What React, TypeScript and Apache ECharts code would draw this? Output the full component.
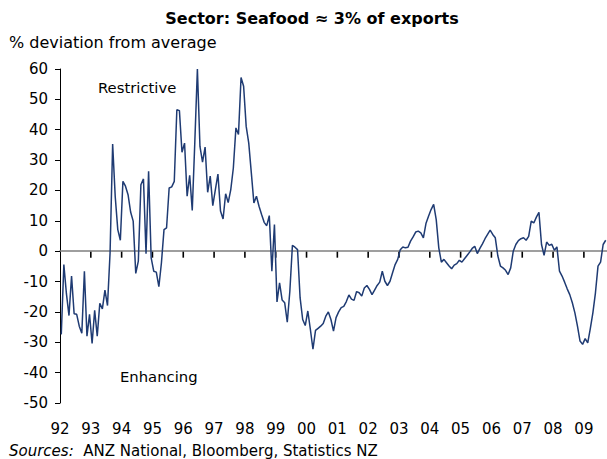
import React, { useEffect, useRef } from "react";
import * as echarts from "echarts";

// Monthly % deviation from average, Jan 1992 .. Sep 2009
const values92to97 = [
  -27.4, -4.4, -14, -21.2, -8.2, -20.6, -20.8, -24.7, -27, -6.6, -28, -20.8,
  -30.4, -19.5, -28, -17.2, -19, -12.8, -17.9, -0.5, 35.3, 18, 7.1, 3.6,
  23, 21.4, 18.6, 12.9, 9.9, -7.3, -3.3, 21.9, 23.8, -0.8, 26.3, -2.2,
  -6.6, -6.9, -11.7, -3.8, 7.1, 7.7, 20.8, 21.2, 23, 46.6, 46.3, 32.6,
  35.6, 18.1, 25, 13.4, 36, 60, 34.5, 29.3, 34.3, 19.4, 24.7, 15,
  20.3, 25.4, 13.2, 10.6, 18.9, 16, 20.3, 27.4, 40.6, 38.4, 57.2, 54.3,
];
const values98to03 = [
  41.1, 35.6, 25.8, 15.9, 18.1, 14.8, 12.1, 9.5, 8.4, 11.7, -6.6, 8.8,
  -16.7, -10.4, -16.1, -17, -23.4, -13.2, 1.9, 1.3, 0.5, -15.4, -22.5, -24.5,
  -19.7, -25.8, -32.3, -26.1, -25.4, -24.7, -23.8, -21.4, -20, -22.5, -26.3, -21.9,
  -20, -18.6, -18.2, -16.6, -14.4, -15.8, -16.2, -13.3, -13.7, -14.8, -12.1, -11.3,
  -12.6, -14.3, -12.8, -11.3, -10.2, -6.6, -9.9, -11.3, -9.9, -7.1, -4.4, -2.7,
  0.5, 1.4, 1.1, 1.3, 3.3, 4.7, 6.3, 6.6, 6, 4.4, 9.1, 11.5,
];
const values04to09 = [
  13.7, 15.4, 10.4, 1.1, -3.6, -2.7, -3.8, -4.9, -5.8, -4.6, -4.1, -3,
  -3.6, -2.5, -1.4, -0.3, 0.9, 1.6, -0.8, 0.9, 2.4, 4.1, 5.5, 6.9,
  5.5, 4.4, -1.6, -4.9, -5.5, -6.3, -7.7, -5.5, 0, 2.2, 3.5, 4.1,
  4.4, 3.6, 4.9, 9.9, 9.3, 11.2, 12.8, 2.2, -1.4, 3, 1.9, 2.3,
  0.3, 1.4, -6.6, -8.2, -10.2, -12.4, -14.3, -17, -20.3, -24.7, -29.6, -30.7,
  -28.8, -30.2, -25.5, -20.3, -13.7, -4.9, -3.6, 2.2, 3.6,
];
const values = [...values92to97, ...values98to03, ...values04to09];

const firstYear = 1992;
const yearTicks = [
  1992, 1993, 1994, 1995, 1996, 1997, 1998, 1999, 2000,
  2001, 2002, 2003, 2004, 2005, 2006, 2007, 2008, 2009,
];
const yMin = -50;
const yMax = 60;
const yStep = 10;

const FONT = "DejaVu Sans, Verdana, sans-serif";

export default function App() {
  const ref = useRef<HTMLDivElement>(null);

  useEffect(() => {
    if (!ref.current) return;
    const chart = echarts.init(ref.current, null, { renderer: "svg" });
    const data = values.map((v, i) => [firstYear + i / 12 + 1 / 24, v]);
    const tickData = yearTicks.slice(1).map((y) => [y, 0]);
    const xMax = firstYear + values.length / 12;

    const H = 459;
    const top = 69;
    const bottom = 56;
    const plotH = H - top - bottom;
    const zeroY = top + (plotH * yMax) / (yMax - yMin);

    chart.setOption({
      animation: false,
      backgroundColor: "#ffffff",
      grid: [
        { left: 60, right: 0, top, bottom, containLabel: false },
        { left: 60, right: 0, top, bottom: H - zeroY, containLabel: false },
      ],
      xAxis: [
        {
          gridIndex: 0,
          type: "value",
          min: firstYear,
          max: xMax,
          position: "bottom",
          axisLine: { show: false, onZero: false },
          axisTick: { show: false },
          splitLine: { show: false },
          axisLabel: {
            customValues: yearTicks,
            formatter: (v: number) => String(Math.round(v) % 100).padStart(2, "0"),
            fontFamily: FONT,
            fontSize: 15,
            color: "#000",
            margin: 18,
          },
        },
        {
          gridIndex: 1,
          type: "value",
          min: firstYear,
          max: xMax,
          interval: 1,
          position: "bottom",
          axisLine: { show: true, onZero: false, lineStyle: { color: "#7f7f7f", width: 1.6 } },
          axisTick: { show: false },
          axisLabel: { show: false },
          splitLine: { show: false },
        },
      ],
      yAxis: [
        {
          gridIndex: 0,
          type: "value",
          min: yMin,
          max: yMax,
          interval: yStep,
          axisLine: { show: true, onZero: false, lineStyle: { color: "#000", width: 1 } },
          axisTick: { show: true, length: 5, lineStyle: { color: "#000" } },
          splitLine: { show: false },
          axisLabel: {
            fontFamily: FONT,
            fontSize: 15,
            color: "#000",
            margin: 12,
          },
        },
        {
          gridIndex: 1,
          type: "value",
          min: 0,
          max: yMax,
          interval: yStep,
          axisLine: { show: false, onZero: false },
          axisTick: { show: false },
          axisLabel: { show: false },
          splitLine: { show: false },
        },
      ],
      series: [
        {
          type: "scatter",
          xAxisIndex: 0,
          yAxisIndex: 0,
          data: tickData,
          symbol: "rect",
          symbolSize: [1.6, 6],
          symbolOffset: [0, 3.5],
          itemStyle: { color: "#000000", opacity: 1 },
          silent: true,
          z: 2,
        },
        {
          type: "line",
          xAxisIndex: 0,
          yAxisIndex: 0,
          data,
          symbol: "none",
          lineStyle: { color: "#1f3b73", width: 1.5 },
          z: 3,
        },
      ],
      graphic: [
        {
          type: "text",
          x: 312,
          y: 18,
          style: {
            text: "Sector: Seafood ≈ 3% of exports",
            fontFamily: FONT,
            fontWeight: "bold",
            fontSize: 16,
            fill: "#000",
            textAlign: "center",
            textVerticalAlign: "middle",
          },
        },
        {
          type: "text",
          x: 9,
          y: 42,
          style: {
            text: "% deviation from average",
            fontFamily: FONT,
            fontSize: 16,
            fill: "#000",
            textAlign: "left",
            textVerticalAlign: "middle",
          },
        },
        {
          type: "text",
          x: 98,
          y: 87,
          style: {
            text: "Restrictive",
            fontFamily: FONT,
            fontSize: 14.8,
            fill: "#000",
            textAlign: "left",
            textVerticalAlign: "middle",
          },
        },
        {
          type: "text",
          x: 120,
          y: 376,
          style: {
            text: "Enhancing",
            fontFamily: FONT,
            fontSize: 14.8,
            fill: "#000",
            textAlign: "left",
            textVerticalAlign: "middle",
          },
        },
        {
          type: "text",
          x: 9,
          y: 451,
          style: {
            text: "{i|Sources:}  ANZ National, Bloomberg, Statistics NZ",
            fontFamily: FONT,
            fontSize: 15,
            fill: "#000",
            textAlign: "left",
            textVerticalAlign: "middle",
            rich: {
              i: { fontFamily: FONT, fontSize: 15, fontStyle: "italic", fill: "#000" },
            },
          },
        },
      ],
    });

    return () => chart.dispose();
  }, []);

  return (
    <div
      ref={ref}
      style={{ position: "absolute", left: 0, top: 0, width: 607, height: 459 }}
    />
  );
}
